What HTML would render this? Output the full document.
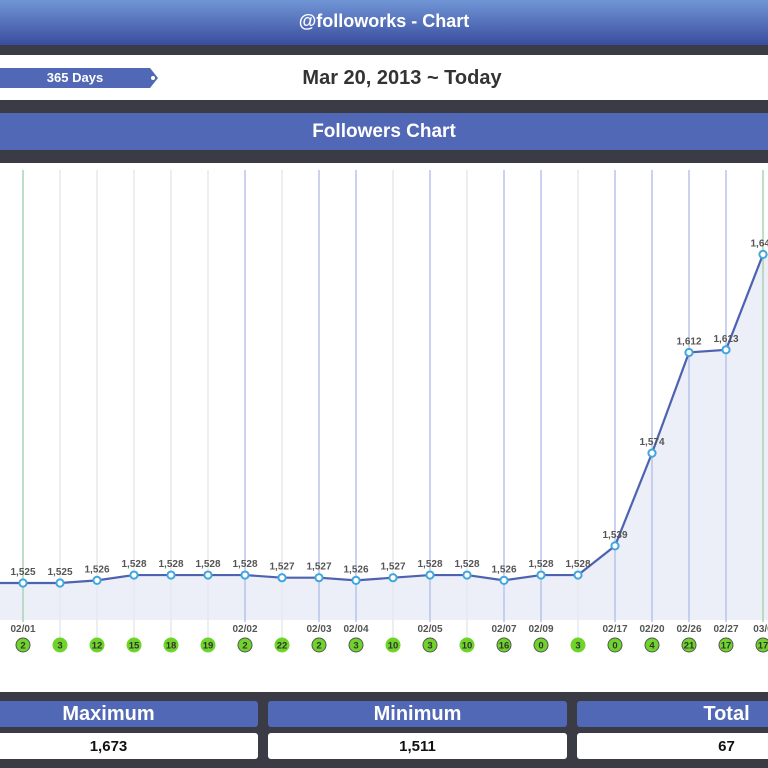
<!DOCTYPE html>
<html><head><meta charset="utf-8"><style>
body{margin:0;width:768px;height:768px;overflow:hidden;background:#3a3b44;font-family:"Liberation Sans","DejaVu Sans",sans-serif;position:relative}
.a{position:absolute}
.hdr{left:0;top:0;width:768px;height:45px;background:linear-gradient(#7196d6,#3a4d9e);color:#fff;font-weight:bold;font-size:18px;text-align:center;line-height:43px}
.wb{left:0;top:55px;width:768px;height:45px;background:#fff}
.tag{left:0;top:68px;width:158px;height:20px;background:#5068b5;color:#fff;font-size:13px;font-weight:bold;line-height:20px;text-align:center;padding-right:8px;box-sizing:border-box;clip-path:polygon(0 0,150px 0,158px 10px,150px 20px,0 20px)}
.fc{left:0;top:113px;width:768px;height:37px;background:#5068b5;color:#fff;font-weight:bold;font-size:19px;text-align:center;line-height:37px}
.sh{height:26px;top:701px;background:#5068b5;color:#fff;font-weight:bold;font-size:20px;text-align:center;line-height:27px;border-radius:3px}
.sv{height:26px;top:733px;background:#fff;color:#111;font-weight:bold;font-size:15px;text-align:center;line-height:27px;border-radius:3px}
</style></head><body>
<div class="a hdr">@followorks - Chart</div>
<div class="a wb"></div>
<div class="a tag">365 Days</div>
<div class="a" style="left:151px;top:76px;width:4px;height:4px;border-radius:50%;background:#fff"></div>
<div class="a" style="left:18px;top:67px;width:768px;text-align:center;font-size:20px;font-weight:bold;color:#333">Mar 20, 2013 ~ Today</div>
<div class="a fc">Followers Chart</div>
<svg class="a" style="left:0;top:163px" width="768" height="529" viewBox="0 163 768 529">
<rect x="0" y="163" width="768" height="529" fill="#fff"/>
<g id="g"></g>
</svg>
<div class="a sh" style="left:-41px;width:299px">Maximum</div>
<div class="a sh" style="left:268px;width:299px">Minimum</div>
<div class="a sh" style="left:577px;width:299px">Total</div>
<div class="a sv" style="left:-41px;width:299px">1,673</div>
<div class="a sv" style="left:268px;width:299px">1,511</div>
<div class="a sv" style="left:577px;width:299px">67</div>
<script>
var v=[1525,1525,1525,1526,1528,1528,1528,1528,1527,1527,1526,1527,1528,1528,1526,1528,1528,1539,1574,1612,1613,1649];
var b=["","2","3","12","15","18","19","2","22","2","3","10","3","10","16","0","3","0","4","21","17","17"];
var dl=["","02/01","","","","","","02/02","","02/03","02/04","","02/05","","02/07","02/09","","02/17","02/20","02/26","02/27","03/0"];
var s="",pts=[];
for(var i=0;i<22;i++){var x=-14+37*i,y=583-(v[i]-1525)*2.65;pts.push(x+","+y);}
for(var i=1;i<22;i++){var x=-14+37*i;var c=dl[i]?"#b8c4ea":"#e6e8ee";if(i==1||i==21)c="#a9d4b4";
s+='<line x1="'+x+'" y1="170" x2="'+x+'" y2="'+(dl[i]?622:640)+'" stroke="'+c+'" stroke-width="1.5"/>';}
s='<polygon points="-14,620 '+pts.join(" ")+' 768,253 768,620" fill="#eceff7"/>'+s;
s+='<polyline points="'+pts.join(" ")+'" fill="none" stroke="#4d62b0" stroke-width="2.2"/>';
for(var i=1;i<22;i++){var x=-14+37*i,y=583-(v[i]-1525)*2.65;
s+='<circle cx="'+x+'" cy="'+y+'" r="3.6" fill="#fff" stroke="#3fa6de" stroke-width="2"/>';
s+='<text x="'+x+'" y="'+(y-8)+'" font-size="10" font-weight="bold" fill="#555" text-anchor="middle">'+v[i].toLocaleString("en-US")+'</text>';
if(dl[i])s+='<text x="'+x+'" y="632" font-size="10" font-weight="bold" fill="#555" text-anchor="middle">'+dl[i]+'</text>';
s+='<circle cx="'+x+'" cy="645" r="7" fill="#6fd42a" stroke="'+(dl[i]?"#555":"#6fd42a")+'" stroke-width="1"/>';
s+='<text x="'+x+'" y="648.5" font-size="9.5" font-weight="bold" fill="#333" text-anchor="middle">'+b[i]+'</text>';}
document.getElementById("g").innerHTML=s;
</script>
</body></html>
